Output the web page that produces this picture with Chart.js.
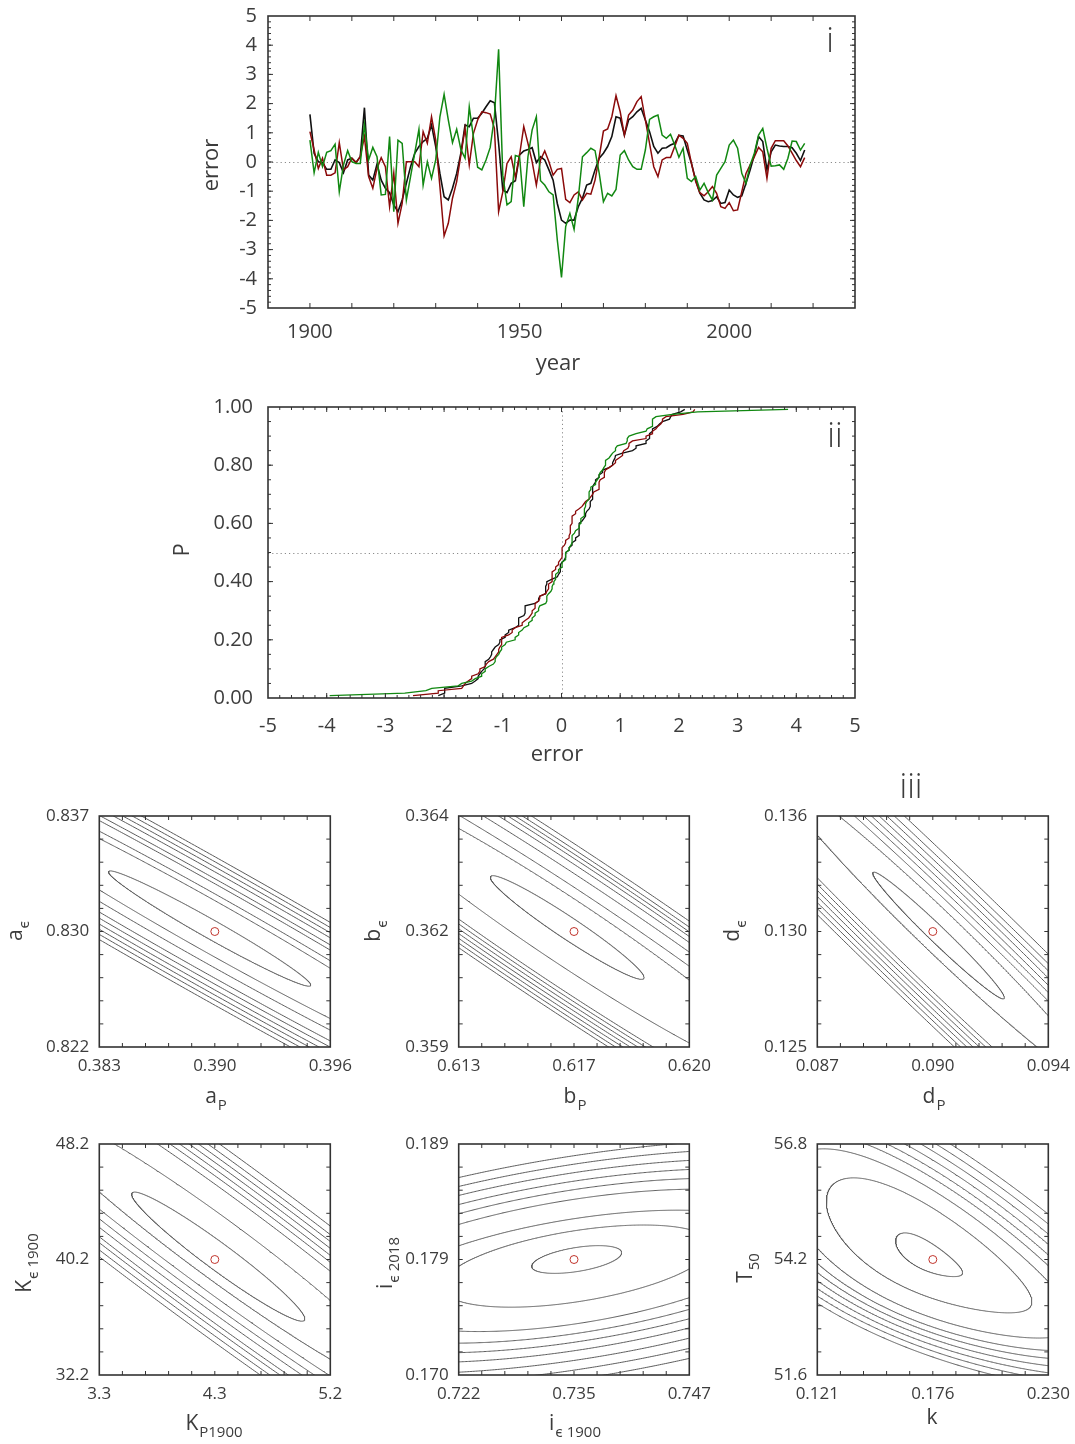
<!DOCTYPE html>
<html>
<head>
<meta charset="utf-8">
<script src="https://cdn.jsdelivr.net/npm/chart.js@4.4.1/dist/chart.umd.min.js"></script>
<style>
  html, body { margin: 0; padding: 0; background: #fff; }
  body { width: 1075px; height: 1444px; position: relative; overflow: hidden; }
</style>
</head>
<body>
<script>
// ---------- panel i: yearly forecast errors ----------
const years = [];
for (let y = 1900; y <= 2018; y++) years.push(y);

const errBlack = [
  1.63, 0.30, 0.01, -0.02, -0.25, -0.25, 0.07, -0.02, -0.37, 0.07,
  0.13, -0.02, 0.18, 1.86, -0.45, -0.62, -0.07, -0.62, -0.90, -1.05,
  -1.47, -1.70, -1.30, -0.73, -0.16, 0.30, 0.53, 0.70, 0.81, 1.27,
  0.53, -0.39, -1.19, -1.30, -0.90, -0.39, 0.30, 1.27, 1.21, 1.50,
  1.50, 1.67, 1.89, 2.10, 2.03, 0.64, -0.96, -1.05, -0.73, -0.64,
  0.24, 0.38, 0.43, 0.49, -0.02, 0.18, 0.07, -0.27, -0.62, -1.42,
  -1.99, -2.10, -1.99, -1.99, -1.53, -1.24, -0.79, -0.73, -0.27, 0.13,
  0.30, 0.53, 0.87, 1.55, 1.50, 0.92, 1.44, 1.55, 1.72, 1.84,
  1.44, 1.04, 0.53, 0.30, 0.47, 0.49, 0.58, 0.64, 0.91, 0.89,
  0.41, -0.05, -0.62, -1.07, -1.30, -1.36, -1.32, -1.19, -1.42, -1.39,
  -0.96, -1.13, -1.21, -1.16, -0.73, -0.27, 0.24, 0.87, 0.70, -0.27,
  0.35, 0.58, 0.55, 0.53, 0.53, 0.49, 0.30, 0.05, 0.41
];
const errRed = [
  1.04, 0.41, -0.22, 0.13, -0.45, -0.45, -0.37, 0.66, -0.27, -0.16,
  0.13, -0.02, 0.18, 0.87, -0.50, -0.90, -0.22, 0.15, -0.16, -1.53,
  -0.37, -2.10, -1.42, 0.01, 0.01, 0.01, -0.16, 1.04, 0.64, 1.55,
  0.75, -0.84, -2.53, -2.10, -1.24, -0.67, 0.24, 1.15, -0.10, 0.98,
  1.44, 1.72, 1.69, 1.64, 1.15, -1.70, -1.02, -0.05, 0.18, -0.53,
  0.24, 1.21, 0.64, 0.01, -0.79, 0.07, 0.38, 0.01, -0.45, -0.25,
  -0.22, -1.28, -1.39, -1.13, -1.02, -1.30, -1.07, -1.10, -0.62, 0.18,
  1.06, 1.13, 1.55, 2.27, 1.72, 0.92, 1.61, 1.78, 2.07, 2.24,
  1.44, 0.64, -0.16, -0.50, 0.07, 0.15, 0.15, 0.53, 0.92, 0.81,
  0.64, -0.05, -0.67, -1.05, -1.16, -1.02, -0.84, -1.07, -1.53, -1.59,
  -1.39, -1.67, -1.64, -1.02, -0.39, -0.10, 0.18, 0.50, 0.35, -0.56,
  0.47, 0.73, 0.73, 0.73, 0.55, 0.30, 0.05, -0.16, 0.15
];
const errGreen = [
  0.75, -0.37, 0.33, -0.16, 0.33, 0.39, 0.61, -1.02, -0.10, 0.39,
  0.01, -0.05, -0.05, 1.27, 0.07, 0.50, 0.18, -1.13, -1.11, 0.87,
  -1.70, 0.75, 0.64, -1.30, -0.50, 0.30, 1.12, -0.79, 0.01, -0.56,
  0.07, 1.55, 2.32, 1.44, 0.66, 1.12, 0.43, 0.13, 1.89, 0.84,
  -0.18, -0.27, 0.07, 0.50, 1.55, 3.86, -0.45, -1.47, -1.36, 0.22,
  0.18, -1.53, 0.18, 1.10, 1.55, -0.64, -0.79, -1.02, -1.13, -2.67,
  -3.95, -2.21, -1.76, -2.31, -1.24, 0.18, 0.32, 0.47, 0.39, -0.39,
  -1.36, -1.07, -1.16, -0.94, 0.24, 0.39, 0.07, -0.16, -0.25, -0.25,
  0.41, 1.46, 1.55, 1.61, 0.92, 0.81, 0.95, 0.58, 0.16, 0.47,
  -0.56, -0.67, -0.50, -0.96, -0.73, -1.05, -1.30, -0.45, -0.22, 0.01,
  0.58, 0.75, 0.47, -0.39, -0.73, -0.10, 0.30, 0.92, 1.15, 0.47,
  -0.14, -0.13, -0.10, -0.25, 0.13, 0.72, 0.70, 0.41, 0.64
];
const yearTicks = [1900, 1950, 2000];
const errTicks = [-5, -4, -3, -2, -1, 0, 1, 2, 3, 4, 5];

// ---------- panel ii: cumulative probability axis ----------
const probTicks = [0, 0.2, 0.4, 0.6, 0.8, 1.0];

// ---------- panel iii: parameter pairs ----------
// best-fit values (marked with a circle) and half-width of each axis window
const fitX  = [0.3897, 0.6167, 0.0904, 4.26, 0.7345, 0.1755];
const fitY  = [0.8297, 0.3617, 0.1304, 40.2, 0.1794, 54.2];
const halfX = [0.0065, 0.0034, 0.0034, 0.95, 0.0125, 0.0545];
const halfY = [0.0074, 0.0026, 0.0055, 8.0, 0.0094, 2.6];
const xLabels = [
  ['0.383', '0.390', '0.396'], ['0.613', '0.617', '0.620'], ['0.087', '0.090', '0.094'],
  ['3.3', '4.3', '5.2'], ['0.722', '0.735', '0.747'], ['0.121', '0.176', '0.230']
];
const yLabels = [
  ['0.822', '0.830', '0.837'], ['0.359', '0.362', '0.364'], ['0.125', '0.130', '0.136'],
  ['32.2', '40.2', '48.2'], ['0.170', '0.179', '0.189'], ['51.6', '54.2', '56.8']
];
const xNames = [['a', 'P'], ['b', 'P'], ['d', 'P'], ['K', 'P1900'], ['i', 'ϵ 1900'], ['k', '']];
const yNames = [['a', 'ϵ'], ['b', 'ϵ'], ['d', 'ϵ'], ['K', 'ϵ 1900'], ['i', 'ϵ 2018'], ['T', '50']];

// misfit valley around each optimum: centre, spread along x,
// valley slope (dy/dx) on its upper and lower flank, and spread of y across the valley
const surfX   = [0.38941, 0.61650, 0.09057, 4.2885, 0.73479, 0.17376];
const surfY   = [0.82989, 0.36179, 0.13021, 40.40, 0.17940, 54.26];
const sigX    = [0.005694, 0.002268, 0.001938, 0.7125, 0.004875, 0.0158];
const slopeUp = [-0.6369, -0.4976, -1.5318, -6.063, 0.11245, -28.6];
const slopeDn = [-0.6369, -0.4976, -1.5318, -6.063, 0.11245, -16.7];
const sigYc   = [0.000698, 0.000297, 0.000554, 1.156, 0.000986, 0.3375];
// contour levels (in spread units) on the upper and lower flank
const levelsUp = [
  [1, 2.83, 3.45, 4.38, 4.84, 5.47, 5.93, 6.40, 6.86],
  [1, 2.52, 3.39, 4.43, 5.13, 5.57, 5.91, 6.26, 6.70],
  [1, 2.70, 3.60, 4.30, 4.90, 5.50, 6.10, 6.70, 7.50],
  [1, 2.62, 4.20, 4.70, 5.10, 5.50, 5.90, 6.30, 6.80],
  [1, 2.40, 3.40, 5.00, 5.80, 6.50, 7.20, 7.90, 8.60],
  [1, 3.40, 4.60, 5.40, 6.00, 6.60, 7.20, 7.80, 8.40]
];
const levelsDown = [
  [1, 2.36, 3.35, 4.29, 4.84, 5.37, 5.84, 6.30, 6.77],
  [1, 3.20, 4.96, 5.30, 5.65, 6.00, 6.35, 6.70, 7.04],
  [1, 2.10, 5.30, 5.80, 6.30, 6.80, 7.30, 7.80, 8.30],
  [1, 1.72, 2.55, 3.10, 3.59, 4.14, 4.48, 4.90, 5.30],
  [1, 3.50, 5.30, 6.10, 6.80, 7.50, 8.30, 9.10, 9.90],
  [1, 2.70, 4.00, 4.60, 5.00, 5.40, 5.80, 6.20, 6.60]
];

// ---------- styling ----------
const FONT = "'Open Sans', 'Noto Sans', 'DejaVu Sans', sans-serif";
const TXT = '#3c3c3c';
const AXIS = '#333333';
const C_BLACK = '#111111', C_RED = '#8b0a0a', C_GREEN = '#118811';
Chart.defaults.font.family = FONT;

function seq(a, b, step) {
  const out = [];
  const n = Math.round((b - a) / step);
  for (let i = 0; i <= n; i++) out.push(a + i * step);
  return out;
}

function addCanvas(left, top, w, h) {
  const d = document.createElement('div');
  d.style.cssText = `position:absolute;left:${left}px;top:${top}px;width:${w}px;height:${h}px`;
  const c = document.createElement('canvas');
  d.appendChild(c);
  document.body.appendChild(d);
  return c;
}

function drawLabel(ctx, t, ox, oy) {
  ctx.save();
  ctx.translate(t.x - ox, t.y - oy);
  if (t.rot) ctx.rotate(t.rot);
  const w = t.weight || '400';
  const main = `${w} ${t.size}px ${FONT}`;
  const ss = Math.round(t.size * 0.7);
  const subF = `${w} ${ss}px ${FONT}`;
  ctx.font = main;
  const w1 = ctx.measureText(t.text).width;
  let w2 = 0;
  const gap = 1;
  if (t.sub) { ctx.font = subF; w2 = ctx.measureText(t.sub).width + gap; }
  const x0 = -(w1 + w2) / 2;
  ctx.fillStyle = TXT;
  ctx.textBaseline = 'middle';
  ctx.textAlign = 'left';
  ctx.font = main;
  ctx.fillText(t.text, x0, 0);
  if (t.sub) {
    ctx.font = subF;
    ctx.fillText(t.sub, x0 + w1 + gap, t.size * 0.42);
  }
  ctx.restore();
}

// frame, inward tick marks, dotted reference lines and titles
const decor = {
  id: 'decor',
  beforeDatasetsDraw(chart, args, o) {
    const { ctx, chartArea: a, scales } = chart;
    ctx.save();
    ctx.strokeStyle = '#8c8c8c';
    ctx.lineWidth = 1;
    ctx.setLineDash([1.2, 3]);
    (o.refX || []).forEach(v => {
      const p = Math.round(scales.x.getPixelForValue(v)) + 0.5;
      ctx.beginPath(); ctx.moveTo(p, a.top); ctx.lineTo(p, a.bottom); ctx.stroke();
    });
    (o.refY || []).forEach(v => {
      const p = Math.round(scales.y.getPixelForValue(v)) + 0.5;
      ctx.beginPath(); ctx.moveTo(a.left, p); ctx.lineTo(a.right, p); ctx.stroke();
    });
    ctx.restore();
  },
  afterDraw(chart, args, o) {
    const { ctx, chartArea: a, scales } = chart;
    ctx.save();
    ctx.strokeStyle = AXIS;
    ctx.lineWidth = 1;
    const seg = (x1, y1, x2, y2) => { ctx.beginPath(); ctx.moveTo(x1, y1); ctx.lineTo(x2, y2); ctx.stroke(); };
    const tickSet = (scale, vals, len) => {
      vals.forEach(v => {
        const p = scale.getPixelForValue(v);
        if (scale.isHorizontal()) {
          if (p <= a.left + 1 || p >= a.right - 1) return;
          seg(p, a.bottom, p, a.bottom - len);
          seg(p, a.top, p, a.top + len);
        } else {
          if (p <= a.top + 1 || p >= a.bottom - 1) return;
          seg(a.left, p, a.left + len, p);
          seg(a.right, p, a.right - len, p);
        }
      });
    };
    if (o.tx) { tickSet(scales.x, o.tx.major, o.tx.lenMajor); if (o.tx.minor) tickSet(scales.x, o.tx.minor, o.tx.lenMinor); }
    if (o.ty) { tickSet(scales.y, o.ty.major, o.ty.lenMajor); if (o.ty.minor) tickSet(scales.y, o.ty.minor, o.ty.lenMinor); }
    ctx.lineWidth = 1.6;
    ctx.strokeRect(a.left, a.top, a.right - a.left, a.bottom - a.top);
    (o.labels || []).forEach(t => drawLabel(ctx, t, o.origin[0], o.origin[1]));
    ctx.restore();
  }
};
Chart.register(decor);

function axis(min, max, vals, labels, pad, size, which, fit) {
  return {
    type: 'linear', min, max,
    afterBuildTicks: s => { s.ticks = vals.map(v => ({ value: v })); },
    ticks: {
      autoSkip: false, maxRotation: 0, minRotation: 0, padding: pad, color: TXT,
      font: { family: FONT, size, weight: '400' },
      callback: (v, i) => labels[i]
    },
    grid: { display: false, drawTicks: false },
    border: { display: false },
    afterFit: s => {
      if (which === 'x') s.height = fit; else s.width = fit;
      s.paddingTop = 0; s.paddingBottom = 0; s.paddingLeft = 0; s.paddingRight = 0;
    }
  };
}

function baseOptions(area, xs, ys, decorOpts) {
  return {
    animation: false, responsive: true, maintainAspectRatio: false, events: [],
    layout: { padding: { left: 0, top: area.T, right: area.W - area.R, bottom: 0 } },
    plugins: { legend: { display: false }, tooltip: { enabled: false }, decor: decorOpts },
    scales: { x: xs, y: ys }
  };
}

function line(points, color, width) {
  return { data: points, showLine: true, borderColor: color, borderWidth: width,
           pointRadius: 0, fill: false, tension: 0 };
}

// ---------- panel i ----------
(function () {
  const area = { L: 268, T: 16, R: 855, B: 308, W: 1075, H: 385 };
  const c = addCanvas(0, 0, area.W, area.H);
  const pts = arr => years.map((y, i) => ({ x: y, y: arr[i] }));
  new Chart(c, {
    type: 'scatter',
    data: { datasets: [line(pts(errGreen), C_GREEN, 1.5), line(pts(errRed), C_RED, 1.5), line(pts(errBlack), C_BLACK, 1.6)] },
    options: baseOptions(area,
      axis(1890, 2030, yearTicks, yearTicks.map(String), 12, 20, 'x', area.H - area.B),
      axis(-5, 5, errTicks, errTicks.map(String), 11, 20, 'y', area.L),
      {
        origin: [0, 0],
        refY: [0],
        tx: { major: seq(1900, 2020, 10), lenMajor: 5 },
        ty: { major: errTicks, lenMajor: 5, minor: seq(-5, 5, 0.2), lenMinor: 3 },
        labels: [
          { text: 'year', x: 558, y: 364, size: 22 },
          { text: 'error', x: 212, y: 165, size: 22, rot: -Math.PI / 2 },
          { text: 'i', x: 830, y: 42, size: 34, weight: '300' }
        ]
      })
  });
})();

// ---------- panel ii ----------
(function () {
  const area = { L: 268, T: 22, R: 855, B: 313, W: 1075, H: 380 };
  const c = addCanvas(0, 385, area.W, area.H);
  const cdf = arr => {
    const s = [...arr].sort((a, b) => a - b);
    return s.map((v, i) => ({ x: v, y: (i + 1) / (s.length + 1) }));
  };
  new Chart(c, {
    type: 'scatter',
    data: { datasets: [line(cdf(errGreen), C_GREEN, 1.3), line(cdf(errRed), C_RED, 1.3), line(cdf(errBlack), C_BLACK, 1.3)] },
    options: baseOptions(area,
      axis(-5, 5, errTicks, errTicks.map(String), 16, 20, 'x', area.H - area.B),
      axis(0, 1, probTicks, probTicks.map(v => v.toFixed(2)), 15, 20, 'y', area.L),
      {
        origin: [0, 385],
        refX: [0], refY: [0.5],
        tx: { major: errTicks, lenMajor: 5, minor: seq(-5, 5, 0.2), lenMinor: 3 },
        ty: { major: probTicks, lenMajor: 5, minor: seq(0, 1, 0.05), lenMinor: 3 },
        labels: [
          { text: 'error', x: 557, y: 755, size: 22 },
          { text: 'P', x: 183, y: 550, size: 22, rot: -Math.PI / 2 },
          { text: 'ii', x: 835, y: 437, size: 34, weight: '300' }
        ]
      })
  });
})();

// ---------- panel iii ----------
function contour(k, rUp, rDown) {
  const m = (rUp + rDown) / 2, d = (rUp - rDown) / 2;
  const bm = (slopeUp[k] + slopeDn[k]) / 2, bd = (slopeUp[k] - slopeDn[k]) / 2;
  const out = [];
  const n = 1440;
  for (let j = 0; j <= n; j++) {
    const t = (j / n) * 2 * Math.PI;
    const st = Math.sin(t);
    const r = m + d * st;
    const b = bm + bd * st;
    const dx = sigX[k] * r * Math.cos(t);
    out.push({ x: surfX[k] + dx, y: surfY[k] + b * dx + sigYc[k] * r * st });
  }
  return out;
}

const cells = [
  { left: 0,   top: 765,  W: 358, H: 355, L: 99.3,  R: 330.3, T: 51, B: 282 },
  { left: 358, top: 765,  W: 358, H: 355, L: 100.7, R: 331.3, T: 51, B: 282 },
  { left: 716, top: 765,  W: 359, H: 355, L: 101.3, R: 332.3, T: 51, B: 282 },
  { left: 0,   top: 1120, W: 358, H: 324, L: 99.3,  R: 330.3, T: 24, B: 255 },
  { left: 358, top: 1120, W: 358, H: 324, L: 100.7, R: 331.3, T: 24, B: 255 },
  { left: 716, top: 1120, W: 359, H: 324, L: 101.3, R: 332.3, T: 24, B: 255 }
];
const xTitlePos = [[216, 1097], [575, 1097], [934, 1097], [214, 1424], [575, 1424], [932, 1418]];
const yTitlePos = [[16, 931], [374, 931], [733, 931], [25, 1263], [386, 1263], [746, 1268]];

cells.forEach((cell, k) => {
  const c = addCanvas(cell.left, cell.top, cell.W, cell.H);
  const xmin = fitX[k] - halfX[k], xmax = fitX[k] + halfX[k];
  const ymin = fitY[k] - halfY[k], ymax = fitY[k] + halfY[k];
  const sets = levelsUp[k].map((u, j) => line(contour(k, u, levelsDown[k][j]), '#5c5c5c', 1));
  sets.push({ data: [{ x: fitX[k], y: fitY[k] }], showLine: false, pointRadius: 4,
              pointBorderColor: '#c0342c', pointBackgroundColor: 'rgba(0,0,0,0)', pointBorderWidth: 1 });
  const labels = [
    { text: xNames[k][0], sub: xNames[k][1], x: xTitlePos[k][0], y: xTitlePos[k][1], size: 21 },
    { text: yNames[k][0], sub: yNames[k][1], x: yTitlePos[k][0], y: yTitlePos[k][1], size: 21, rot: -Math.PI / 2 }
  ];
  if (k === 2) labels.push({ text: 'iii', x: 911, y: 788, size: 34, weight: '300' });
  new Chart(c, {
    type: 'scatter',
    data: { datasets: sets },
    options: baseOptions(cell,
      axis(xmin, xmax, [xmin, fitX[k], xmax], xLabels[k], 9, 17, 'x', cell.H - cell.B),
      axis(ymin, ymax, [ymin, fitY[k], ymax], yLabels[k], 10, 17, 'y', cell.L),
      {
        origin: [cell.left, cell.top],
        tx: { major: seq(xmin, xmax, (xmax - xmin) / 10), lenMajor: 4 },
        ty: { major: seq(ymin, ymax, (ymax - ymin) / 10), lenMajor: 4 },
        labels
      })
  });
});
</script>
</body>
</html>
